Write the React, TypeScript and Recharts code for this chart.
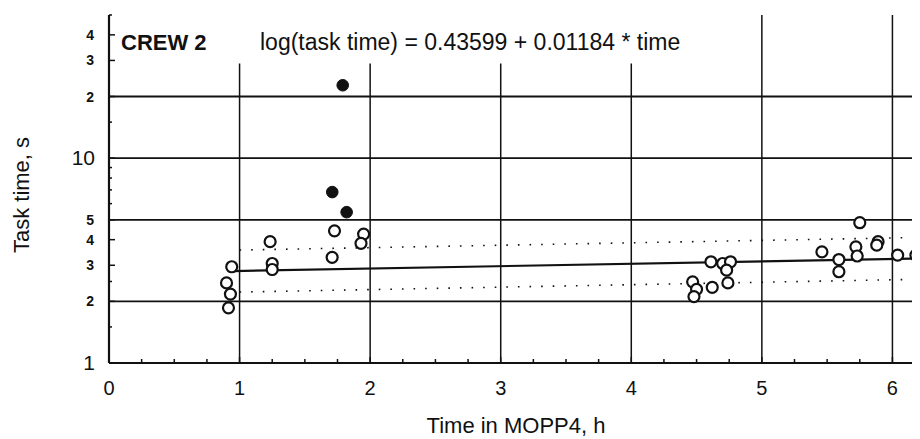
import React from 'react';
import { ComposedChart, Scatter, XAxis, YAxis, ReferenceLine } from 'recharts';

const openPoints = [
  { x: 0.94, y: 2.95 }, { x: 0.9, y: 2.46 }, { x: 0.93, y: 2.17 }, { x: 0.915, y: 1.86 },
  { x: 1.234, y: 3.91 }, { x: 1.25, y: 3.06 }, { x: 1.25, y: 2.86 },
  { x: 1.727, y: 4.42 }, { x: 1.709, y: 3.28 }, { x: 1.95, y: 4.26 }, { x: 1.93, y: 3.84 },
  { x: 4.47, y: 2.49 }, { x: 4.5, y: 2.29 }, { x: 4.48, y: 2.11 }, { x: 4.62, y: 2.34 },
  { x: 4.61, y: 3.12 }, { x: 4.7, y: 3.06 }, { x: 4.76, y: 3.12 }, { x: 4.73, y: 2.84 }, { x: 4.74, y: 2.46 },
  { x: 5.75, y: 4.84 }, { x: 5.46, y: 3.49 }, { x: 5.59, y: 3.2 }, { x: 5.59, y: 2.79 },
  { x: 5.72, y: 3.69 }, { x: 5.73, y: 3.33 }, { x: 5.89, y: 3.91 }, { x: 5.88, y: 3.76 },
  { x: 6.04, y: 3.36 }, { x: 6.18, y: 3.36 }, { x: 6.2, y: 3.12 },
];
const filledPoints = [
  { x: 1.79, y: 22.7 }, { x: 1.71, y: 6.83 }, { x: 1.82, y: 5.45 },
];
const fitLine = [{ x: 0.95, y: 2.81 }, { x: 7, y: 3.31 }];
const upperBand = [{ x: 1, y: 3.56 }, { x: 7, y: 4.19 }];
const lowerBand = [{ x: 1, y: 2.22 }, { x: 7, y: 2.62 }];

const xTicks = [0, 0.25, 0.5, 0.75, 1, 1.25, 1.5, 1.75, 2, 2.25, 2.5, 2.75, 3, 3.25, 3.5, 3.75, 4,
  4.25, 4.5, 4.75, 5, 5.25, 5.5, 5.75, 6, 6.25, 6.5, 6.75, 7];
const xLabels = [0, 1, 2, 3, 4, 5, 6];
const yTicks = [1, 1.5, 2, 2.5, 3, 4, 5, 6, 7, 8, 9, 10, 15, 20, 30, 40, 50];
const yLabelsBig: Record<number, string> = { 1: '1', 10: '10' };
const yLabelsSmall: Record<number, string> = { 2: '2', 3: '3', 4: '4', 5: '5', 20: '2', 30: '3', 40: '4' };
const gridY = [2, 5, 10, 20];
const gridXShort = [1, 2, 3, 4];
const gridXFull = [5, 6];

const FONT = '"Liberation Sans", Arial, Helvetica, sans-serif';
const INK = '#111';

const BottomTick = (props: any) => {
  const { x, y, payload } = props;
  const v = payload.value;
  const major = Number.isInteger(v);
  return (
    <g>
      <line x1={x} x2={x} y1={y} y2={y - (major ? 6 : 4)} stroke={INK} strokeWidth={1.5} />
      {xLabels.includes(v) && (
        <text x={x} y={y + 32} textAnchor="middle" fontSize={20} fontFamily={FONT} fill={INK}>{v}</text>
      )}
    </g>
  );
};

const TopTick = (props: any) => {
  const { x, y, payload } = props;
  const major = Number.isInteger(payload.value);
  return <line x1={x} x2={x} y1={y} y2={y + (major ? 5 : 3)} stroke={INK} strokeWidth={1.5} />;
};

const LeftTick = (props: any) => {
  const { x, y, payload } = props;
  const v = payload.value;
  const big = yLabelsBig[v];
  const small = yLabelsSmall[v];
  const len = big || small ? 6 : 3;
  return (
    <g>
      <line x1={x} x2={x + len} y1={y} y2={y} stroke={INK} strokeWidth={1.5} />
      {big && (
        <text x={x - 14} y={y + 7} textAnchor="end" fontSize={21} fontFamily={FONT} fill={INK}>{big}</text>
      )}
      {small && (
        <text x={x - 15} y={y + 5} textAnchor="end" fontSize={14} fontWeight="bold" fontFamily={FONT} fill={INK}>{small}</text>
      )}
    </g>
  );
};

const OpenDot = (props: any) => (
  <circle cx={props.cx} cy={props.cy} r={5.5} fill="#fff" stroke={INK} strokeWidth={2.2} />
);
const FilledDot = (props: any) => (
  <circle cx={props.cx} cy={props.cy} r={5.8} fill={INK} stroke={INK} strokeWidth={1} />
);
const NoDot = () => null;

export default function App() {
  return (
    <div style={{ position: 'relative', width: 912, height: 431, overflow: 'hidden', background: '#fff' }}>
      <ComposedChart width={1031} height={431} margin={{ top: 7, right: 16, bottom: 0, left: 0 }}>
        <XAxis xAxisId="b" type="number" dataKey="x" domain={[0, 7]} ticks={xTicks} interval={0}
          allowDataOverflow tickSize={0} tickMargin={0} tick={<BottomTick />} height={76}
          axisLine={{ stroke: INK, strokeWidth: 2.2 }} tickLine={false} />
        <XAxis xAxisId="t" orientation="top" type="number" dataKey="x" domain={[0, 7]} ticks={xTicks}
          interval={0} allowDataOverflow tickSize={0} tickMargin={0} tick={<TopTick />} height={0}
          axisLine={{ stroke: INK, strokeWidth: 2.2 }} tickLine={false} />
        <YAxis yAxisId="l" type="number" dataKey="y" scale="log" domain={[1, 50]} ticks={yTicks}
          interval={0} allowDataOverflow tickSize={0} tickMargin={0} tick={<LeftTick />} width={101}
          axisLine={{ stroke: INK, strokeWidth: 2.2 }} tickLine={false} />
        {gridY.map((v) => (
          <ReferenceLine key={'gy' + v} xAxisId="b" yAxisId="l" y={v} stroke={INK} strokeWidth={1.8} />
        ))}
        {gridXShort.map((v) => (
          <ReferenceLine key={'gxs' + v} xAxisId="b" yAxisId="l"
            segment={[{ x: v, y: 1 }, { x: v, y: 29 }]} stroke={INK} strokeWidth={1.5} />
        ))}
        {gridXFull.map((v) => (
          <ReferenceLine key={'gxf' + v} xAxisId="b" yAxisId="l" x={v} stroke={INK} strokeWidth={1.5} />
        ))}
        <Scatter xAxisId="b" yAxisId="l" data={upperBand} shape={<NoDot />} isAnimationActive={false}
          line={{ stroke: INK, strokeWidth: 1.6, strokeDasharray: '1.6 10' }} />
        <Scatter xAxisId="b" yAxisId="l" data={lowerBand} shape={<NoDot />} isAnimationActive={false}
          line={{ stroke: INK, strokeWidth: 1.6, strokeDasharray: '1.6 10' }} />
        <Scatter xAxisId="b" yAxisId="l" data={fitLine} shape={<NoDot />} isAnimationActive={false}
          line={{ stroke: INK, strokeWidth: 2.2 }} />
        <Scatter xAxisId="b" yAxisId="l" data={openPoints} shape={<OpenDot />} isAnimationActive={false} />
        <Scatter xAxisId="b" yAxisId="l" data={filledPoints} shape={<FilledDot />} isAnimationActive={false} />
      </ComposedChart>
      <svg width={912} height={431} style={{ position: 'absolute', left: 0, top: 0, pointerEvents: 'none' }}>
        <text x={113} y={42} fontSize={22} fontWeight="bold" fontFamily={FONT} fill={INK}>CREW 2</text>
        <text x={252} y={42} fontSize={23} fontFamily={FONT} fill={INK}>log(task time) = 0.43599 + 0.01184 * time</text>
        <text x={21} y={187} fontSize={22} fontFamily={FONT} fill={INK} textAnchor="middle"
          transform="rotate(-90 21 187)">Task time, s</text>
        <text x={508} y={425} fontSize={22} fontFamily={FONT} fill={INK} textAnchor="middle">Time in MOPP4, h</text>
      </svg>
    </div>
  );
}
